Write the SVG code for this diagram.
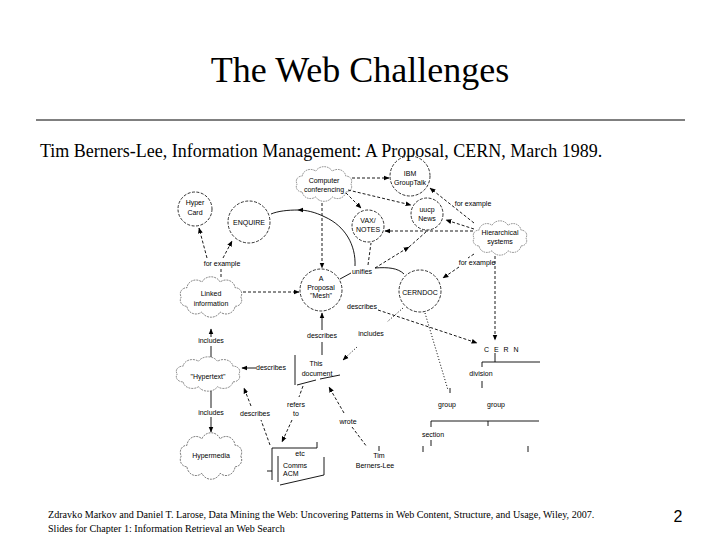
<svg xmlns="http://www.w3.org/2000/svg" xmlns:xlink="http://www.w3.org/1999/xlink" width="720" height="540" viewBox="0 0 720 540">
<style>
.serif{font-family:"Liberation Serif","Times New Roman",serif;fill:#000}
.t{font-family:"Liberation Sans",Arial,sans-serif;font-size:7px;fill:#000;text-anchor:middle}
.sh{fill:none;stroke:#000;stroke-width:0.8;stroke-dasharray:3 1.5}
.cl{fill:none;stroke:#000;stroke-width:0.8;stroke-dasharray:3 1.5;vector-effect:non-scaling-stroke}
.s{fill:none;stroke:#000;stroke-width:0.9}
.d{fill:none;stroke:#000;stroke-width:0.9;stroke-dasharray:3 2}
.o{fill:none;stroke:#000;stroke-width:1;stroke-dasharray:1 2}
.a{marker-end:url(#ah)}
</style>
<defs>
<marker id="ah" viewBox="0 0 10 10" refX="9" refY="5" markerWidth="6" markerHeight="6" markerUnits="userSpaceOnUse" orient="auto"><path d="M0,1 L10,5 L0,9 z" fill="#000"/></marker>
<path id="cloud" d="M46,0 A10,10 0 0 1 37.2,15.3 A14,14 0 0 1 14.2,24.7 A16,16 0 0 1 -14.2,24.7 A14,14 0 0 1 -37.2,15.3 A10,10 0 0 1 -46,0 A10,10 0 0 1 -37.2,-15.3 A14,14 0 0 1 -14.2,-24.7 A16,16 0 0 1 14.2,-24.7 A14,14 0 0 1 37.2,-15.3 A10,10 0 0 1 46,0 Z"/>
</defs>
<rect width="720" height="540" fill="#fff"/>

<g id="header">
<text class="serif" x="360" y="82" font-size="36" text-anchor="middle">The Web Challenges</text>
<line x1="36" y1="120" x2="685" y2="120" stroke="#000" stroke-width="1"/>
<text class="serif" x="40" y="157" font-size="18">Tim Berners-Lee, Information Management: A Proposal, CERN, March 1989.</text>
</g>

<g id="connectors">
<!-- for example (left) -->
<path class="d" d="M221,277 L221,269"/>
<path class="d a" d="M207,258 L199,228"/>
<path class="d a" d="M223,258 L232,241"/>
<!-- linked -> mesh -->
<path class="d a" d="M243,292 L299,292"/>
<!-- includes: hypertext -> linked -->
<path class="s" d="M211,357 L211,346"/>
<path class="s a" d="M211,337 L211,329"/>
<!-- includes: hypertext -> hypermedia -->
<path class="s" d="M211,391 L211,408"/>
<path class="s a" d="M211,417 L211,432"/>
<!-- describes: this doc -> mesh -->
<path class="s" d="M322,355 L322,342"/>
<path class="s a" d="M322,330 L322,313"/>
<!-- describes: this doc -> hypertext -->
<path class="s a" d="M256,368 L242,368"/>
<!-- describes: etc -> hypertext -->
<path class="d" d="M270,445 L261,420"/>
<path class="d a" d="M251,406 L244,388"/>
<!-- refers to -->
<path class="d" d="M303,386 L299,397"/>
<path class="d a" d="M292,420 L282,442"/>
<!-- wrote -->
<path class="d a" d="M344,413 L329,387"/>
<path class="d" d="M352,427 L367,447"/>
<!-- CERNDOC includes this document -->
<path class="o" d="M403,308 L387,322"/>
<path class="o a" d="M357,347 L343,360"/>
<!-- CERNDOC -> group -->
<path class="o" d="M425,313 L448,390"/>
<!-- Mesh describes CERN -->
<path class="d a" d="M378,310 L477,343"/>
<!-- computer conferencing -->
<path class="d a" d="M322,203 L322,268"/>
<path class="d a" d="M352,178 L389,178"/>
<path class="d a" d="M348,190 L411,205"/>
<path class="d a" d="M346,193 L361,208"/>
<!-- hierarchical systems -->
<path class="d a" d="M474,223 L430,188"/>
<path class="d a" d="M474,229 L446,220"/>
<path class="d a" d="M473,231 L385,231"/>
<path class="d" d="M474,254 L468,258"/>
<path class="d a" d="M459,267 L443,278"/>
<path class="d a" d="M495,256 L495,340"/>
<!-- unifies -->
<path class="s" d="M340,279 L351,273"/>
<path class="s a" d="M355,266 C356,245 345,226 325,217 C315,212 306,210 298,210"/>
<path class="s" d="M298,210 C288,210 278,211 271,214"/>
<path class="d" d="M368,265 L371,243"/>
<path class="d a" d="M375,268 L409,247"/>
<path class="d" d="M409,247 L427,231"/>
<path class="s" d="M375,268 C388,267 398,268 404,274"/>
<!-- CERN tree -->
<path class="s" d="M495,353 L495,362 M482,362 L540,362 M482,362 L482,367 M482,381 L482,388 M450,388 L450,393 M431,421 L539,421 M431,421 L431,427 M488,421 L488,426 M431,440 L431,446 M423,446 L423,452 M528,446 L528,452 M379,446 L379,451"/>
<!-- labels -->
<text class="t" x="222" y="265.5">for example</text>
<text class="t" x="473" y="205.5">for example</text>
<text class="t" x="477" y="264.5">for example</text>
<text class="t" x="362" y="273.5">unifies</text>
<text class="t" x="362" y="308.5">describes</text>
<text class="t" x="371" y="335.5">includes</text>
<text class="t" x="322" y="337.5">describes</text>
<text class="t" x="211" y="342.5">includes</text>
<text class="t" x="271" y="369.5">describes</text>
<text class="t" x="211" y="414.5">includes</text>
<text class="t" x="255" y="415.5">describes</text>
<text class="t" x="296" y="406.5">refers</text>
<text class="t" x="296" y="415.5">to</text>
<text class="t" x="348" y="423.5">wrote</text>
</g>

<g id="nodes">
<g id="n-hypercard"><circle class="sh" cx="195" cy="209" r="17"/><text class="t" x="195" y="205">Hyper</text><text class="t" x="195" y="215">Card</text></g>
<g id="n-enquire"><circle class="sh" cx="249" cy="222" r="21"/><text class="t" x="249" y="224.5">ENQUIRE</text></g>
<g id="n-compconf"><use xlink:href="#cloud" class="cl" transform="translate(324,184) scale(0.583,0.52)"/><text class="t" x="324" y="183">Computer</text><text class="t" x="324" y="192">conferencing</text></g>
<g id="n-ibm"><circle class="sh" cx="410" cy="176" r="20"/><text class="t" x="410" y="175.5">IBM</text><text class="t" x="410" y="184.5">GroupTalk</text></g>
<g id="n-vax"><circle class="sh" cx="368" cy="226" r="16"/><text class="t" x="368" y="222.5">VAX/</text><text class="t" x="368" y="232">NOTES</text></g>
<g id="n-uucp"><circle class="sh" cx="427" cy="214" r="16"/><text class="t" x="427" y="211.5">uucp</text><text class="t" x="427" y="220.5">News</text></g>
<g id="n-hier"><use xlink:href="#cloud" class="cl" transform="translate(500,238) scale(0.5625,0.515)"/><text class="t" x="500" y="235">Hierarchical</text><text class="t" x="500" y="244">systems</text></g>
<g id="n-mesh"><circle class="sh" cx="321" cy="290" r="21"/><text class="t" x="321" y="280.5">A</text><text class="t" x="321" y="289.5">Proposal</text><text class="t" x="321" y="298">"Mesh"</text></g>
<g id="n-linked"><use xlink:href="#cloud" class="cl" transform="translate(211,297) scale(0.646,0.606)"/><text class="t" x="211" y="295.5">Linked</text><text class="t" x="211" y="306">information</text></g>
<g id="n-cerndoc"><circle class="sh" cx="420" cy="291" r="21"/><text class="t" x="420" y="295">CERNDOC</text></g>
<g id="n-hypertext"><use xlink:href="#cloud" class="cl" transform="translate(208,374) scale(0.667,0.515)"/><text class="t" x="208" y="378.5">"Hypertext"</text></g>
<g id="n-hypermedia"><use xlink:href="#cloud" class="cl" transform="translate(211,456) scale(0.646,0.697)"/><text class="t" x="211" y="457.5">Hypermedia</text></g>
<g id="n-thisdoc"><path class="s" d="M295,355 L295,385 M297,385 L316,380 M320,379 L340,375"/><text class="t" x="316" y="365.5">This</text><text class="t" x="317" y="376">document</text></g>
<g id="n-etc"><path class="s" d="M272,448 L317,448 M317,442 L317,448 M272,448 L272,480 M267,471 L272,471 M278,456 L278,482 M324,457 L324,475 M280,485 L324,475"/><text class="t" x="300" y="455.5">etc</text><text class="t" x="283" y="467.5" style="text-anchor:start">Comms</text><text class="t" x="283" y="475.5" style="text-anchor:start">ACM</text></g>
<g id="n-tbl"><text class="t" x="379" y="458">Tim</text><text class="t" x="375" y="467.5">Berners-Lee</text></g>
<g id="n-cern"><text class="t" x="502" y="352" font-size="8" letter-spacing="1.5">C E R N</text></g>
<g id="n-division"><text class="t" x="481" y="375.5">division</text></g>
<g id="n-group1"><text class="t" x="447" y="406.5">group</text></g>
<g id="n-group2"><text class="t" x="496" y="406.5">group</text></g>
<g id="n-section"><text class="t" x="433" y="437">section</text></g>
</g>

<g id="footer">
<text class="serif" x="48" y="518" font-size="10.1">Zdravko Markov and Daniel T. Larose, Data Mining the Web: Uncovering Patterns in Web Content, Structure, and Usage, Wiley, 2007.</text>
<text class="serif" x="48" y="532" font-size="10.1">Slides for Chapter 1: Information Retrieval an Web Search</text>
<text x="678" y="522" font-size="16" text-anchor="middle" font-family="Liberation Sans, Arial, sans-serif">2</text>
</g>
</svg>
